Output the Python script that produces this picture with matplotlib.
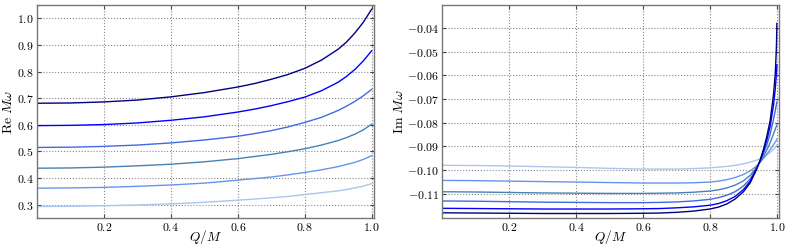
import numpy as np
import matplotlib
matplotlib.use("Agg")
import matplotlib.pyplot as plt
from matplotlib.ticker import FuncFormatter

plt.rcParams['font.family'] = ['DejaVu Serif']
plt.rcParams['mathtext.fontset'] = 'cm'

# curve colours, from the lowest Re (lightest) to the highest Re (darkest)
colors = ['#aac6ee', '#6495ed', '#4682b4', '#4169e1', '#0000ff', '#000080']

# --- Re M omega vs Q/M
q_re = [0, 0.1, 0.2, 0.3, 0.4, 0.5, 0.6, 0.65, 0.7, 0.75, 0.8, 0.85, 0.9, 0.925, 0.95, 0.975, 1.0]
re_light = [0.293, 0.294, 0.296, 0.299, 0.303, 0.309, 0.317, 0.321, 0.326, 0.331, 0.338, 0.345, 0.352, 0.357, 0.363, 0.370, 0.379]
re_cfl = [0.362, 0.363, 0.365, 0.369, 0.374, 0.381, 0.392, 0.398, 0.404, 0.412, 0.421, 0.431, 0.443, 0.451, 0.459, 0.470, 0.484]
re_steel = [0.437, 0.438, 0.441, 0.446, 0.452, 0.461, 0.473, 0.481, 0.489, 0.499, 0.510, 0.524, 0.541, 0.552, 0.565, 0.581, 0.602]
re_royal = [0.515, 0.516, 0.519, 0.524, 0.532, 0.543, 0.557, 0.567, 0.578, 0.592, 0.609, 0.628, 0.654, 0.670, 0.688, 0.709, 0.733]
re_blue = [0.597, 0.598, 0.601, 0.607, 0.617, 0.630, 0.648, 0.659, 0.672, 0.687, 0.704, 0.728, 0.760, 0.782, 0.808, 0.840, 0.878]
re_navy = [0.681, 0.682, 0.686, 0.693, 0.705, 0.721, 0.742, 0.755, 0.771, 0.789, 0.812, 0.843, 0.884, 0.911, 0.945, 0.985, 1.034]

# --- Im M omega vs Q/M
q_im = [0, 0.1, 0.2, 0.3, 0.4, 0.5, 0.6, 0.65, 0.7, 0.75, 0.8, 0.825, 0.85, 0.875, 0.9,
        0.92, 0.94, 0.95, 0.96, 0.97, 0.98, 0.99, 0.995, 0.998, 0.999, 1.0]
im_light = [-0.0980, -0.0981, -0.0983, -0.0986, -0.0989, -0.0993, -0.0996, -0.0996, -0.0996, -0.0994,
            -0.0991, -0.0988, -0.0985, -0.0980, -0.0974, -0.0967, -0.0958, -0.0952, -0.0945, -0.0936,
            -0.0926, -0.0912, -0.0905, -0.0900, -0.0898, -0.0895]
im_cfl = [-0.1044, -0.1045, -0.1047, -0.1049, -0.1051, -0.1053, -0.1055, -0.1055, -0.1055, -0.1054,
          -0.1051, -0.1047, -0.1041, -0.1032, -0.1019, -0.1004, -0.0982, -0.0967, -0.0951, -0.0933,
          -0.0914, -0.0893, -0.0882, -0.0876, -0.0873, -0.0870]
im_steel = [-0.1092, -0.1093, -0.1095, -0.1097, -0.1098, -0.1099, -0.1099, -0.1098, -0.1097, -0.1094,
            -0.1089, -0.1084, -0.1076, -0.1064, -0.1046, -0.1023, -0.0987, -0.0965, -0.0942, -0.0915,
            -0.0884, -0.0847, -0.0828, -0.0817, -0.0813, -0.0810]
im_royal = [-0.1131, -0.1132, -0.1134, -0.1136, -0.1137, -0.1138, -0.1138, -0.1137, -0.1135, -0.1131,
            -0.1124, -0.1117, -0.1107, -0.1092, -0.1068, -0.1038, -0.0990, -0.0962, -0.0930, -0.0893,
            -0.0847, -0.0785, -0.0750, -0.0727, -0.0720, -0.0712]
im_blue = [-0.1162, -0.1163, -0.1164, -0.1165, -0.1165, -0.1165, -0.1164, -0.1163, -0.1160, -0.1156,
           -0.1149, -0.1142, -0.1130, -0.1112, -0.1083, -0.1048, -0.0993, -0.0960, -0.0920, -0.0873,
           -0.0814, -0.0725, -0.0660, -0.0605, -0.0585, -0.0555]
im_navy = [-0.1181, -0.1182, -0.1183, -0.1184, -0.1184, -0.1184, -0.1183, -0.1182, -0.1179, -0.1174,
           -0.1165, -0.1157, -0.1144, -0.1123, -0.1092, -0.1055, -0.0995, -0.0958, -0.0912, -0.0858,
           -0.0790, -0.0680, -0.0595, -0.0505, -0.0460, -0.0380]

re_curves = [re_light, re_cfl, re_steel, re_royal, re_blue, re_navy]
im_curves = [im_light, im_cfl, im_steel, im_royal, im_blue, im_navy]

fig = plt.figure(figsize=(7.89, 2.5), dpi=100)
ax1 = fig.add_axes([0.047, 0.128, 0.427, 0.852])
ax2 = fig.add_axes([0.5606, 0.128, 0.427, 0.852])

for ys, c in zip(re_curves, colors):
    ax1.plot(q_re, ys, color=c, lw=1.0)
for ys, c in zip(im_curves, colors):
    ax2.plot(q_im, ys, color=c, lw=1.0)

ax1.set_xlim(0.0, 1.007)
ax1.set_ylim(0.25, 1.05)
ax1.set_yticks([0.3, 0.4, 0.5, 0.6, 0.7, 0.8, 0.9, 1.0])
ax1.yaxis.set_major_formatter(FuncFormatter(lambda v, p: '$%.1f$' % v))
ax1.set_ylabel(r'$\mathrm{Re}\ M\omega$', fontsize=10, labelpad=1)

ax2.set_xlim(0.0, 1.007)
ax2.set_ylim(-0.1203, -0.0302)
ax2.set_yticks([-0.11, -0.10, -0.09, -0.08, -0.07, -0.06, -0.05, -0.04])
ax2.yaxis.set_major_formatter(FuncFormatter(lambda v, p: '$%.2f$' % v))
ax2.set_ylabel(r'$\mathrm{Im}\ M\omega$', fontsize=10, labelpad=1)

for ax in (ax1, ax2):
    ax.set_xticks([0.2, 0.4, 0.6, 0.8, 1.0])
    ax.xaxis.set_major_formatter(FuncFormatter(lambda v, p: '$%.1f$' % v))
    ax.set_xlabel(r'$Q/M$', fontsize=9.5)
    ax.xaxis.set_label_coords(0.5, -0.045)
    ax.grid(True, color='#888888', linestyle=':', linewidth=0.8)
    ax.tick_params(direction='in', top=True, right=True, length=3,
                   labelsize=8.5, color='#444444', pad=2.5)
    for s in ax.spines.values():
        s.set_color('#777777')
        s.set_linewidth(1.0)

fig.savefig('out.png', dpi=100)
